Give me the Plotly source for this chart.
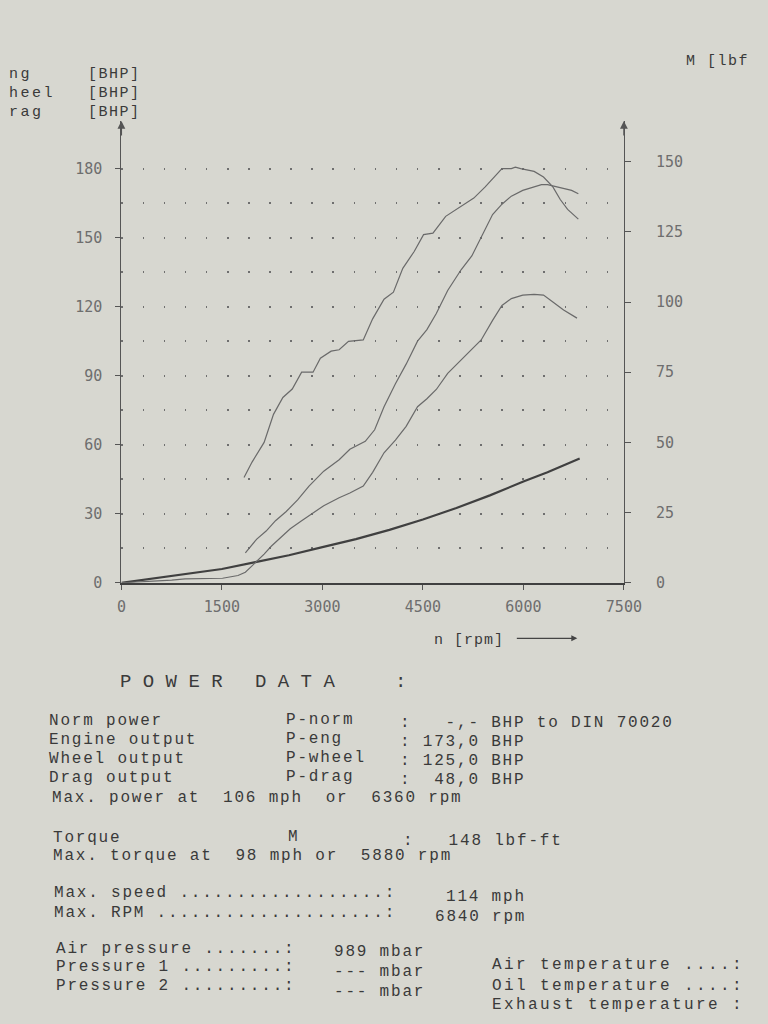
import plotly.graph_objects as go

# ---------------- data ----------------
rpm_drag = [0, 500, 1000, 1500, 2000, 2500, 3000, 3500, 4000, 4500, 5000, 5500, 6000, 6360, 6840]
drag_bhp = [0, 2, 4, 6, 9, 12, 15.5, 19, 23, 27.5, 32.5, 38, 44, 48, 54]

rpm_wheel = [0, 250, 500, 750, 950, 1250, 1510, 1740, 1850, 1930, 2020, 2130, 2240, 2350, 2520,
             2690, 2860, 3020, 3250, 3410, 3610, 3750, 3920, 4090, 4250, 4420, 4560, 4700, 4870,
             5040, 5210, 5370, 5540, 5680, 5820, 5990, 6160, 6300, 6440, 6600, 6800]
wheel_bhp = [0, 0.3, 0.8, 1.2, 1.7, 1.8, 2, 3.2, 4.6, 6.8, 9.2, 12.5, 16, 19, 23.5,
             27, 30.5, 33.5, 37, 39, 42, 48, 56.5, 62, 68, 76.5, 80, 84, 91,
             96, 101, 105.5, 114, 120.5, 123.5, 125, 125.3, 125, 122, 118.5, 115]

rpm_eng = [1850, 2020, 2160, 2300, 2460, 2630, 2800, 3020, 3250, 3410, 3640, 3780, 3920, 4090,
           4250, 4420, 4560, 4700, 4870, 5070, 5230, 5400, 5540, 5680, 5820, 5990, 6160, 6270,
           6360, 6440, 6600, 6720, 6820]
eng_bhp = [13, 19, 22.5, 27, 31, 36, 42, 48.5, 53.5, 58, 61.5, 66.5, 76.5, 86.5,
           95, 105, 110, 117, 127, 136, 142, 151.5, 160, 164.5, 168, 170.5, 172, 173,
           173, 172.5, 171.5, 170.5, 169]

rpm_torque = [1830, 1950, 2130, 2270, 2410, 2550, 2690, 2860, 2970, 3130, 3250, 3390, 3610, 3750,
              3920, 4060, 4200, 4370, 4510, 4650, 4840, 5040, 5260, 5430, 5600, 5680, 5820, 5880,
              5960, 6160, 6300, 6440, 6550, 6660, 6820]
torque_lbft = [37.5, 43, 50, 60, 66, 69, 75, 75, 80, 82.5, 83, 86, 86.5, 94,
               101, 103.5, 112, 118, 124, 124.5, 130.5, 133.5, 137, 141, 145.5, 147.5, 147.5, 148,
               147.5, 146.5, 144.5, 141, 136.5, 133, 129.5]

x_ticks = [0, 1500, 3000, 4500, 6000, 7500]
x_ticktext = ["0", "1500", "3000", "4500", "6000", "7500"]
yl_ticks = [0, 30, 60, 90, 120, 150, 180]
yl_ticktext = ["0", "30", "60", "90", "120", "150", "180"]
yr_ticks = [0, 25, 50, 75, 100, 125, 150]
yr_ticktext = ["0", "25", "50", "75", "100", "125", "150"]
grid_rows = [15, 45, 75, 105, 135, 165]

# ---------------- layout geometry ----------------
W, H = 768, 1024
X0, X1 = 120, 638
YB, YT = 588, 122
YMAX = 180 * (YB - YT) / (YB - 170)
RATIO = 1.22

BG = "#d7d7d0"
INK = "#3a3a3a"
MONO = "Liberation Mono"
TICKF = dict(family="DejaVu Sans Mono", size=15, color="#6e6e6e")

fig = go.Figure()
fig.add_trace(go.Scatter(x=rpm_drag, y=drag_bhp, mode="lines", name="P-drag",
                         line=dict(color="#404040", width=2.2)))
fig.add_trace(go.Scatter(x=rpm_wheel, y=wheel_bhp, mode="lines", name="P-wheel",
                         line=dict(color="#6a6a6a", width=1.2)))
fig.add_trace(go.Scatter(x=rpm_eng, y=eng_bhp, mode="lines", name="P-eng",
                         line=dict(color="#6a6a6a", width=1.2)))
fig.add_trace(go.Scatter(x=rpm_torque, y=torque_lbft, mode="lines", name="M", yaxis="y2",
                         line=dict(color="#6a6a6a", width=1.2)))

fig.update_layout(
    width=W, height=H, autosize=False,
    margin=dict(l=0, r=0, t=0, b=0),
    paper_bgcolor=BG, plot_bgcolor=BG,
    showlegend=False,
    xaxis=dict(domain=[X0 / W, X1 / W], range=[0, 7500], tickvals=x_ticks, ticktext=x_ticktext,
               showline=True, linecolor="#404040", linewidth=1.6, ticks="outside", ticklen=5,
               tickcolor="#555", showgrid=False, zeroline=False, tickfont=TICKF,
               ticklabelstandoff=4),
    yaxis=dict(domain=[1 - YB / H, 1 - YT / H], range=[0, YMAX], tickvals=yl_ticks,
               ticktext=yl_ticktext, showline=True, linecolor="#555", linewidth=1.2,
               ticks="outside", ticklen=5, tickcolor="#555", zeroline=False, tickfont=TICKF,
               ticklabelstandoff=10,
               showgrid=True, gridcolor="#6f6f6f", gridwidth=1.6, griddash="1.6px,19.5px",
               minor=dict(tickvals=grid_rows, showgrid=True, gridcolor="#6f6f6f",
                          gridwidth=1.6, griddash="1.6px,19.5px", ticks="")),
    yaxis2=dict(overlaying="y", side="right", range=[0, YMAX / RATIO], tickvals=yr_ticks,
                ticktext=yr_ticktext, showline=True, linecolor="#555", linewidth=1.2,
                ticks="outside", ticklen=6, tickcolor="#555", showgrid=False, zeroline=False,
                tickfont=TICKF, ticklabelstandoff=22),
)

anns = []


def txt(px, py, s, size=16, color=INK, family=MONO, anchor="left", ls=1.8):
    label = s if ls == 0 else '<span style="letter-spacing:%.1fpx">%s</span>' % (ls, s)
    anns.append(dict(x=px / W, y=1 - py / H, xref="paper", yref="paper", text=label,
                     showarrow=False, xanchor=anchor, yanchor="middle",
                     font=dict(family=family, size=size, color=color)))


# axis arrows
for xv in (0, 7500):
    anns.append(dict(x=xv, y=YMAX, xref="x", yref="y", text="", showarrow=True,
                     ax=0, ay=16, arrowhead=2, arrowsize=1.2, arrowwidth=1.3, arrowcolor="#555"))
# rpm arrow
anns.append(dict(x=590 / W, y=1 - 644 / H, xref="paper", yref="paper", text="", showarrow=True,
                 ax=-62, ay=0, arrowhead=2, arrowsize=1, arrowwidth=1.2, arrowcolor="#444"))
txt(440, 646, "n [rpm]", size=15, ls=1.0)

# header remains (cut off at the page edge in the original print)
txt(2, 75, "ng", size=15, ls=2.5)
txt(2, 94, "heel", size=15, ls=2.5)
txt(2, 114, "rag", size=15, ls=2.5)
for yy in (75, 94, 114):
    txt(84, yy, "[BHP]", size=15, ls=1.5)
txt(700, 62, "M [lbf", size=15, ls=1.5)

# POWER DATA block
txt(116, 688, "P O W E R", size=19, ls=0)
txt(256, 688, "D A T A", size=19, ls=0)
txt(400, 688, ":", size=19, ls=0)

D = 5
rows = [
    (722, "Norm power", "P-norm", ":   -,- BHP to DIN 70020"),
    (742, "Engine output", "P-eng", ": 173,0 BHP"),
    (761, "Wheel output", "P-wheel", ": 125,0 BHP"),
    (780, "Drag output", "P-drag", ":  48,0 BHP"),
]
for yy, a, b, c in rows:
    txt(43, yy + D, a)
    txt(288, yy + D - 1, b)
    txt(405, yy + D + 2, c)
txt(46, 800 + D, "Max. power at  106 mph  or  6360 rpm")

txt(47, 840 + D, "Torque")
txt(290, 839 + D, "M")
txt(408, 843 + D, ":   148 lbf-ft")
txt(47, 859 + D, "Max. torque at  98 mph or  5880 rpm")

txt(48, 896 + D, "Max. speed ..................:")
txt(453, 900 + D, "114 mph")
txt(48, 916 + D, "Max. RPM ....................:")
txt(441, 920 + D, "6840 rpm")

txt(50, 952 + D, "Air pressure .......:")
txt(337, 955 + D, "989 mbar")
txt(50, 971 + D, "Pressure 1 .........:")
txt(337, 976 + D, "--- mbar")
txt(50, 990 + D, "Pressure 2 .........:")
txt(337, 996 + D, "--- mbar")

txt(500, 969 + D, "Air temperature ....:", ls=2.4)
txt(500, 990 + D, "Oil temperature ....:", ls=2.4)
txt(500, 1011 + D - 2, "Exhaust temperature :", ls=2.4)

fig.update_layout(annotations=anns)
fig.write_html("out.html")
